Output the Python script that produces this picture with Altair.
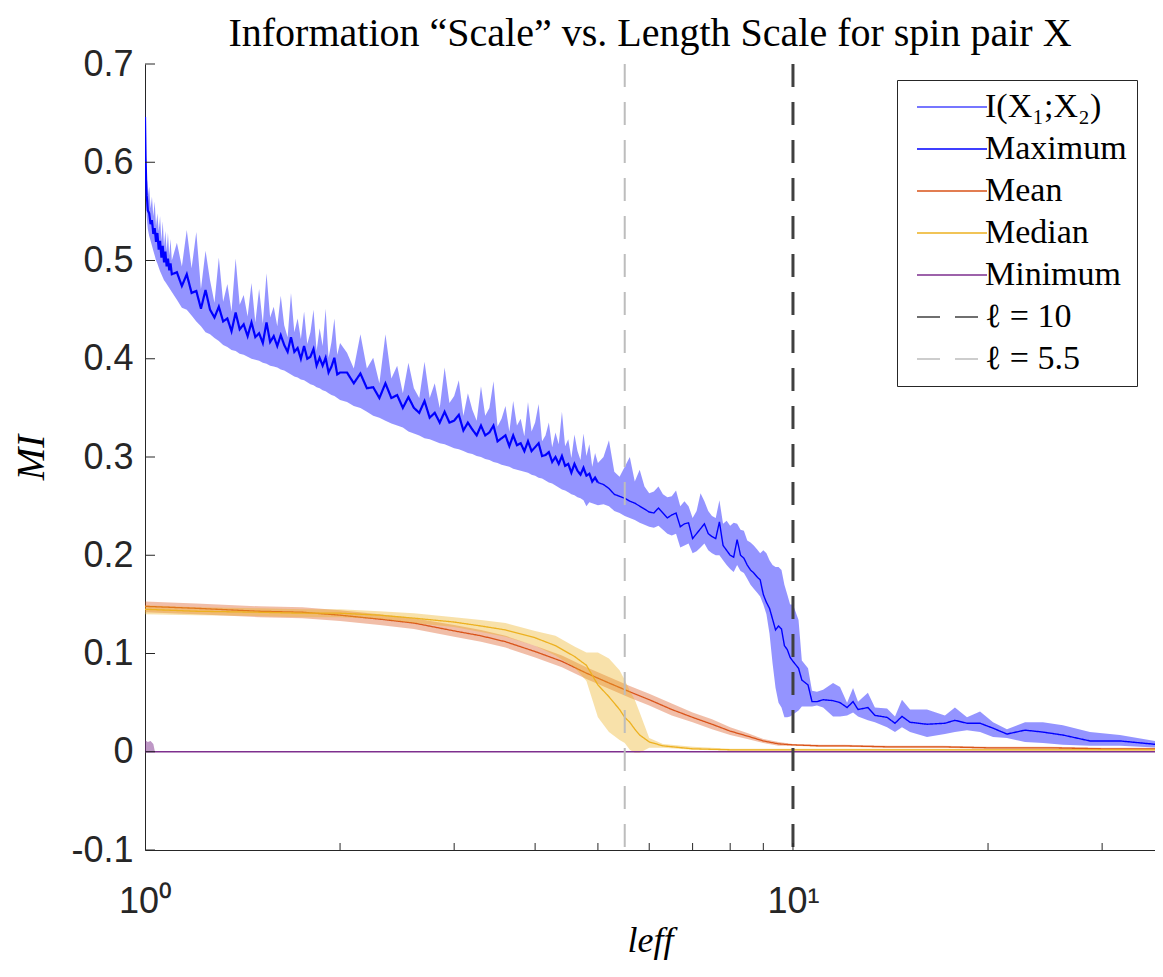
import altair as alt
import pandas as pd

# ---------------- data ----------------
# Maximum MI curve (blue) with its spread band
blue_x = [1.000, 1.002, 1.004, 1.006, 1.008, 1.010, 1.015, 1.020, 1.025, 1.030, 1.035, 1.040,
          1.045, 1.050, 1.055, 1.060, 1.065, 1.070, 1.075, 1.080, 1.085, 1.090, 1.095, 1.100,
          1.12, 1.14, 1.16, 1.18, 1.20, 1.22, 1.24, 1.26, 1.28, 1.30, 1.32, 1.34, 1.36, 1.38, 1.40,
          1.42, 1.44, 1.46, 1.48, 1.50, 1.52, 1.54, 1.56, 1.58, 1.60, 1.62, 1.64, 1.66, 1.68, 1.70,
          1.72, 1.74, 1.76, 1.78, 1.80, 1.82, 1.84, 1.86, 1.88, 1.90, 1.92, 1.94, 1.96, 1.98, 2.00,
          2.05, 2.10, 2.15, 2.20, 2.25, 2.30, 2.35, 2.40, 2.45, 2.50, 2.55, 2.60, 2.65, 2.70, 2.75,
          2.80, 2.85, 2.90, 2.95, 3.00, 3.05, 3.10, 3.15, 3.20, 3.25, 3.30, 3.35, 3.40, 3.45, 3.50,
          3.55, 3.60, 3.65, 3.70, 3.75, 3.80, 3.85, 3.90, 3.95, 4.00, 4.05, 4.10, 4.15, 4.20, 4.25,
          4.30, 4.35, 4.40, 4.45, 4.50, 4.55, 4.60, 4.65, 4.70, 4.75, 4.80, 4.85, 4.90, 4.95, 5.00,
          5.1, 5.2, 5.3, 5.4, 5.5, 5.6, 5.7, 5.8, 5.9, 6.0, 6.1, 6.2, 6.3, 6.4, 6.5, 6.6, 6.7, 6.8,
          6.9, 7.0, 7.1, 7.2, 7.3, 7.4, 7.5, 7.6, 7.7, 7.8, 7.9, 8.0, 8.1, 8.2, 8.3, 8.4, 8.5, 8.6,
          8.7, 8.8, 8.9, 9.0, 9.1, 9.2, 9.3, 9.4, 9.5, 9.6, 9.7, 9.8, 9.9, 10.0,
          10.2, 10.32, 10.55, 10.70, 10.89, 11.13, 11.53, 11.82, 12.12, 12.38, 12.60, 13.05, 13.38,
          13.97, 14.37, 14.73, 15.16, 16.10, 17.16, 17.78, 18.56, 19.44, 20.36, 21.39, 22.81,
          24.31, 26.10, 28.73, 31.96, 37.0]
blue_max = [0.646, 0.605, 0.582, 0.566, 0.560, 0.551, 0.548, 0.537, 0.541, 0.527, 0.533, 0.519,
            0.528, 0.511, 0.520, 0.503, 0.515, 0.498, 0.509, 0.494, 0.502, 0.490, 0.497, 0.486,
            0.488, 0.474, 0.486, 0.467, 0.469, 0.451, 0.470, 0.450, 0.442, 0.453, 0.438, 0.441,
            0.428, 0.447, 0.430, 0.435, 0.423, 0.437, 0.422, 0.426, 0.416, 0.437, 0.417, 0.423,
            0.413, 0.424, 0.414, 0.407, 0.422, 0.407, 0.411, 0.400, 0.413, 0.400, 0.402, 0.410,
            0.393, 0.401, 0.393, 0.401, 0.386, 0.392, 0.401, 0.384, 0.386,
            0.386, 0.375, 0.385, 0.370, 0.371, 0.360, 0.375, 0.360, 0.363, 0.350, 0.361, 0.350,
            0.345, 0.357, 0.340, 0.345, 0.335, 0.346, 0.335, 0.337, 0.343, 0.327, 0.335, 0.328,
            0.322, 0.332, 0.322, 0.325, 0.332, 0.316, 0.319, 0.322, 0.311, 0.322, 0.312, 0.314,
            0.306, 0.316, 0.306, 0.310, 0.314, 0.301, 0.302, 0.305, 0.295, 0.300, 0.293, 0.301,
            0.291, 0.293, 0.284, 0.293, 0.286, 0.282, 0.289, 0.281, 0.283, 0.275, 0.279, 0.274,
            0.272, 0.268, 0.262, 0.260, 0.258, 0.255, 0.253, 0.250, 0.247, 0.244, 0.243, 0.248,
            0.243, 0.238, 0.241, 0.243, 0.229, 0.232, 0.233, 0.217, 0.222, 0.227, 0.232, 0.222,
            0.219, 0.217, 0.234, 0.210, 0.205, 0.200, 0.198, 0.216, 0.200, 0.197, 0.190, 0.185,
            0.182, 0.178, 0.175, 0.160, 0.152, 0.146, 0.135, 0.124, 0.128, 0.125, 0.108, 0.104,
            0.096, 0.092,
            0.085, 0.073, 0.068, 0.051, 0.051, 0.053, 0.052, 0.050, 0.045, 0.051, 0.043, 0.045,
            0.037, 0.035, 0.029, 0.036, 0.030, 0.028, 0.029, 0.032, 0.029, 0.029, 0.024, 0.018,
            0.022, 0.020, 0.017, 0.011, 0.011, 0.007]
blue_hi = [0.666, 0.630, 0.600, 0.585, 0.580, 0.565, 0.575, 0.553, 0.565, 0.545, 0.560, 0.535,
           0.548, 0.530, 0.545, 0.520, 0.540, 0.515, 0.530, 0.510, 0.528, 0.505, 0.522, 0.500,
           0.518, 0.494, 0.531, 0.492, 0.529, 0.471, 0.510, 0.480, 0.457, 0.503, 0.458, 0.476,
           0.448, 0.502, 0.455, 0.465, 0.443, 0.477, 0.437, 0.471, 0.436, 0.487, 0.442, 0.453,
           0.433, 0.464, 0.434, 0.422, 0.467, 0.427, 0.441, 0.420, 0.448, 0.415, 0.427, 0.450,
           0.408, 0.431, 0.413, 0.451, 0.401, 0.417, 0.441, 0.404, 0.416,
           0.406, 0.390, 0.425, 0.390, 0.401, 0.375, 0.425, 0.380, 0.393, 0.365, 0.396, 0.370,
           0.360, 0.397, 0.360, 0.375, 0.350, 0.391, 0.355, 0.362, 0.378, 0.342, 0.365, 0.348,
           0.337, 0.372, 0.342, 0.350, 0.377, 0.331, 0.339, 0.352, 0.326, 0.357, 0.332, 0.339,
           0.321, 0.356, 0.326, 0.335, 0.354, 0.316, 0.322, 0.335, 0.310, 0.325, 0.313, 0.346,
           0.311, 0.318, 0.299, 0.323, 0.306, 0.297, 0.324, 0.301, 0.313, 0.290, 0.304, 0.294,
           0.300, 0.317, 0.285, 0.280, 0.290, 0.300, 0.275, 0.287, 0.270, 0.263, 0.265, 0.270,
           0.262, 0.259, 0.260, 0.266, 0.250, 0.255, 0.250, 0.238, 0.245, 0.263, 0.255, 0.245,
           0.240, 0.238, 0.256, 0.232, 0.235, 0.230, 0.233, 0.232, 0.226, 0.225, 0.215, 0.213,
           0.210, 0.206, 0.202, 0.205, 0.202, 0.195, 0.190, 0.188, 0.188, 0.185, 0.170, 0.160,
           0.150, 0.150,
           0.134, 0.093, 0.085, 0.062, 0.061, 0.063, 0.070, 0.066, 0.050, 0.065, 0.051, 0.060,
           0.045, 0.044, 0.036, 0.053, 0.043, 0.043, 0.037, 0.045, 0.035, 0.041, 0.030, 0.023,
           0.030, 0.030, 0.027, 0.020, 0.017, 0.010]
blue_lo = [0.630, 0.575, 0.555, 0.545, 0.538, 0.532, 0.525, 0.520, 0.515, 0.510, 0.505, 0.500,
           0.497, 0.493, 0.489, 0.486, 0.483, 0.480, 0.478, 0.476, 0.474, 0.472, 0.470, 0.468,
           0.460, 0.452, 0.450, 0.444, 0.438, 0.433, 0.427, 0.425, 0.421, 0.418, 0.414, 0.412,
           0.409, 0.408, 0.405, 0.404, 0.402, 0.400, 0.399, 0.398, 0.396, 0.395, 0.393, 0.392,
           0.391, 0.389, 0.388, 0.386, 0.384, 0.382, 0.381, 0.379, 0.378, 0.376, 0.374, 0.373,
           0.371, 0.370, 0.368, 0.367, 0.365, 0.363, 0.362, 0.360, 0.358,
           0.356, 0.352, 0.350, 0.346, 0.342, 0.340, 0.337, 0.334, 0.332, 0.330, 0.326, 0.324,
           0.322, 0.319, 0.318, 0.316, 0.314, 0.313, 0.311, 0.309, 0.308, 0.306, 0.304, 0.303,
           0.301, 0.300, 0.298, 0.297, 0.295, 0.294, 0.292, 0.291, 0.290, 0.288, 0.287, 0.286,
           0.285, 0.284, 0.282, 0.281, 0.279, 0.278, 0.276, 0.274, 0.273, 0.271, 0.269, 0.267,
           0.266, 0.264, 0.262, 0.261, 0.259, 0.258, 0.256, 0.250, 0.254, 0.253, 0.252, 0.251,
           0.252, 0.250, 0.245, 0.243, 0.240, 0.238, 0.236, 0.233, 0.231, 0.229, 0.228, 0.230,
           0.226, 0.222, 0.220, 0.222, 0.208, 0.210, 0.212, 0.202, 0.204, 0.208, 0.212, 0.205,
           0.202, 0.200, 0.200, 0.195, 0.190, 0.186, 0.183, 0.190, 0.184, 0.182, 0.176, 0.170,
           0.166, 0.162, 0.158, 0.150, 0.140, 0.120, 0.090, 0.065, 0.050, 0.045, 0.035, 0.035,
           0.036, 0.038,
           0.042, 0.046, 0.046, 0.046, 0.047, 0.045, 0.036, 0.036, 0.037, 0.040, 0.036, 0.032,
           0.030, 0.025, 0.020, 0.025, 0.020, 0.015, 0.018, 0.020, 0.022, 0.020, 0.015, 0.014,
           0.010, 0.009, 0.007, 0.006, 0.006, 0.004]

# Mean (red)
mean_x = [1.0, 1.2, 1.5, 1.75, 2.0, 2.3, 2.6, 3.0, 3.3, 3.6, 4.0, 4.4, 4.8, 5.2, 5.6, 6.0,
          6.5, 7.0, 7.5, 8.0, 8.5, 9.0, 9.5, 10, 11, 12, 14, 17, 20, 25, 30, 37]
mean_y = [0.148, 0.146, 0.143, 0.142, 0.139, 0.135, 0.131, 0.123, 0.118, 0.112, 0.102, 0.092,
          0.080, 0.070, 0.061, 0.053, 0.043, 0.035, 0.028, 0.021, 0.016, 0.011, 0.008, 0.007,
          0.006, 0.006, 0.005, 0.005, 0.004, 0.004, 0.003, 0.003]
mean_hi = [0.153, 0.151, 0.148, 0.147, 0.144, 0.140, 0.136, 0.129, 0.124, 0.118, 0.108, 0.098,
           0.086, 0.076, 0.067, 0.059, 0.049, 0.040, 0.033, 0.025, 0.019, 0.013, 0.010, 0.008,
           0.007, 0.007, 0.006, 0.006, 0.005, 0.005, 0.004, 0.004]
mean_lo = [0.142, 0.140, 0.137, 0.136, 0.133, 0.129, 0.125, 0.117, 0.112, 0.106, 0.096, 0.086,
           0.074, 0.064, 0.055, 0.047, 0.037, 0.030, 0.023, 0.017, 0.013, 0.009, 0.006, 0.006,
           0.005, 0.005, 0.004, 0.004, 0.003, 0.003, 0.002, 0.002]

# Median (yellow)
med_x = [1.0, 1.2, 1.5, 1.75, 2.0, 2.3, 2.6, 3.0, 3.3, 3.6, 4.0, 4.3, 4.6, 4.8, 5.0, 5.2, 5.4,
         5.5, 5.6, 5.7, 5.8, 6.0, 6.3, 7.0, 8.0, 10, 14, 20, 30, 37]
med_y = [0.145, 0.143, 0.142, 0.141, 0.141, 0.139, 0.136, 0.132, 0.128, 0.124, 0.116, 0.108,
         0.097, 0.088, 0.068, 0.056, 0.043, 0.035, 0.030, 0.023, 0.017, 0.010, 0.006, 0.003,
         0.002, 0.002, 0.002, 0.002, 0.002, 0.002]
med_hi = [0.149, 0.147, 0.146, 0.145, 0.145, 0.143, 0.141, 0.137, 0.134, 0.131, 0.123, 0.118,
          0.107, 0.101, 0.101, 0.095, 0.083, 0.073, 0.062, 0.053, 0.040, 0.014, 0.008, 0.005,
          0.003, 0.003, 0.003, 0.003, 0.003, 0.003]
med_lo = [0.140, 0.139, 0.138, 0.137, 0.137, 0.135, 0.131, 0.127, 0.122, 0.117, 0.108, 0.098,
          0.086, 0.072, 0.035, 0.020, 0.012, 0.009, 0.002, -0.001, -0.001, 0.004, 0.004, 0.002,
          0.001, 0.001, 0.001, 0.001, 0.001, 0.001]

# Minimum (purple)
min_x = [1.0, 1.01, 1.02, 1.03, 1.036, 37]
min_y = [0.0, 0.0, 0.0, 0.0, 0.0, 0.0]
min_hi = [0.012, 0.010, 0.011, 0.008, 0.0, 0.0]
min_lo = [0.0, 0.0, 0.0, 0.0, 0.0, 0.0]

# reference length scales
ell_values = [10, 5.5]

series_names = ["I(X\u2081;X\u2082)", "Maximum", "Mean", "Median", "Minimum",
                "\u00a0\u2113 = 10", "\u00a0\u2113 = 5.5"]
series_colors = ["#4a4aff", "#0000ff", "#d95319", "#edb120", "#7e2f8e", "#404040", "#bdbdbd"]
series_dash = [[1, 0], [1, 0], [1, 0], [1, 0], [1, 0], [23, 15], [23, 15]]

y_ticks = [-0.1, 0.0, 0.1, 0.2, 0.3, 0.4, 0.5, 0.6, 0.7]
x_minor_ticks = [2, 3, 4, 5, 6, 7, 8, 9, 10, 20, 30]

# ---------------- frames ----------------
blue_df = pd.DataFrame({"x": blue_x, "y": blue_max, "lo": blue_lo, "hi": blue_hi, "series": "Maximum"})
mean_df = pd.DataFrame({"x": mean_x, "y": mean_y, "lo": mean_lo, "hi": mean_hi, "series": "Mean"})
med_df = pd.DataFrame({"x": med_x, "y": med_y, "lo": med_lo, "hi": med_hi, "series": "Median"})
min_df = pd.DataFrame({"x": min_x, "y": min_y, "lo": min_lo, "hi": min_hi, "series": "Minimum"})
ell10_df = pd.DataFrame({"x": [ell_values[0]], "series": [series_names[5]]})
ell55_df = pd.DataFrame({"x": [ell_values[1]], "series": [series_names[6]]})
yt_df = pd.DataFrame({"v": y_ticks})
xt_df = pd.DataFrame({"v": x_minor_ticks})

W, H = 1010, 786
AXC = "#262626"

xs = alt.Scale(type="log", domain=[1, 36.2], nice=False)
ys = alt.Scale(domain=[-0.1, 0.7], nice=False, zero=False)

xaxis = alt.Axis(values=[1, 10], labelExpr="datum.value < 5 ? '10\u2070' : '10\u00b9'",
                 ticks=False, grid=False, domainColor=AXC, domainWidth=1,
                 labelFont="Liberation Sans", labelFontSize=36, labelColor=AXC,
                 labelPadding=34, labelFlush=False,
                 title="leff", titleFont="Liberation Serif", titleFontStyle="italic",
                 titleFontWeight="normal", titleFontSize=36, titleColor="black", titlePadding=4)
yaxis = alt.Axis(values=y_ticks,
                 labelExpr="datum.value == 0 ? '0' : (datum.value < 0 ? '-' + format(-datum.value, '.1f') : format(datum.value, '.1f'))",
                 ticks=False, grid=False, domainColor=AXC, domainWidth=1,
                 labelFont="Liberation Sans", labelFontSize=36, labelColor=AXC, labelPadding=12,
                 title="MI", titleFont="Liberation Serif", titleFontStyle="italic",
                 titleFontWeight="normal", titleFontSize=39, titleColor="black", titlePadding=19)

X = alt.X("x:Q", scale=xs, axis=xaxis)
legend = alt.Legend(title=None, orient="none", legendX=752, legendY=16,
                    symbolType="M-1,0H9", symbolSize=196, symbolStrokeWidth=1.5,
                    symbolOpacity=1,
                    labelOffset=44, labelFont="Liberation Serif", labelFontSize=34,
                    labelColor="black", labelLimit=400, padding=10, rowPadding=8,
                    strokeColor=AXC, fillColor="white", cornerRadius=0)
COLOR = alt.Color("series:N", scale=alt.Scale(domain=series_names, range=series_colors), legend=legend)
DASH = alt.StrokeDash("series:N", scale=alt.Scale(domain=series_names, range=series_dash), legend=legend)


def band(df, color, op):
    return alt.Chart(df).mark_area(color=color, opacity=op, clip=True).encode(
        x=X, y=alt.Y("lo:Q", scale=ys, axis=yaxis), y2=alt.Y2("hi:Q"))


def curve(df, width):
    return alt.Chart(df).mark_line(strokeWidth=width, clip=True).encode(
        x=X, y=alt.Y("y:Q", scale=ys, axis=yaxis), color=COLOR, strokeDash=DASH)


layers = [
    band(blue_df, "#0000ff", 0.42),
    curve(blue_df, 2.2).transform_filter("datum.x <= 5.0"),
    curve(blue_df, 1.4).transform_filter("datum.x >= 5.0"),
    band(mean_df, "#d95319", 0.38), curve(mean_df, 1.3),
    band(med_df, "#edb120", 0.38), curve(med_df, 1.3),
    band(min_df, "#7e2f8e", 0.5), curve(min_df, 1.3),
    alt.Chart(ell55_df).mark_rule(strokeWidth=2).encode(x=X, color=COLOR, strokeDash=DASH),
    alt.Chart(ell10_df).mark_rule(strokeWidth=3).encode(x=X, color=COLOR, strokeDash=DASH),
    alt.Chart(yt_df).mark_rule(color=AXC, strokeWidth=1).encode(
        y=alt.Y("v:Q", scale=ys, axis=yaxis), x=alt.value(0), x2=alt.value(10)),
    alt.Chart(xt_df).mark_rule(color=AXC, strokeWidth=1).encode(
        x=alt.X("v:Q", scale=xs, axis=xaxis), y=alt.value(H), y2=alt.value(H - 7)),
]

chart = alt.layer(*layers).properties(
    width=W, height=H,
    padding={"left": 137, "top": 56, "right": 0, "bottom": 112},
    autosize=alt.AutoSizeParams(type="none"),
    title=alt.TitleParams("Information \u201cScale\u201d vs. Length Scale for spin pair X",
                          font="Liberation Serif", fontSize=40, fontWeight="normal",
                          color="black", anchor="middle", offset=-8),
    background="white",
).configure_view(strokeWidth=0)

chart.save("out.html", embed_options={"renderer": "svg", "actions": False})
